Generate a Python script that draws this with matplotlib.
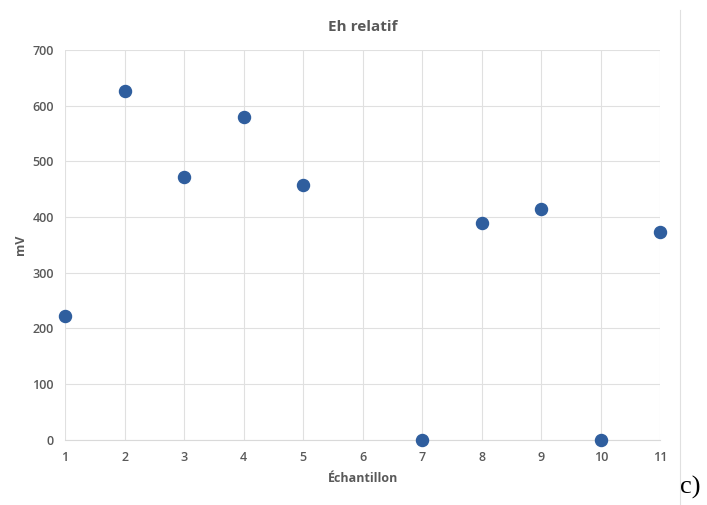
import numpy as np
import matplotlib
matplotlib.use("Agg")
import matplotlib.pyplot as plt

# Eh relatif par échantillon (6 : pas de mesure)
samples = [1, 2, 3, 4, 5, 6, 7, 8, 9, 10, 11]
eh_mv = [223, 627, 472, 580, 458, np.nan, 0, 389, 415, 0, 373]
y_ticks = [0, 100, 200, 300, 400, 500, 600, 700]

txt_color = "#595959"
grid_color = "#e0e0e0"
fam = ["Open Sans", "DejaVu Sans"]

fig = plt.figure(figsize=(7.07, 5.05), dpi=100)
ax = fig.add_axes([0.092, 0.129, 0.842, 0.772])

ax.scatter(samples, eh_mv, s=75, color="#2f5e9e", zorder=3, clip_on=False)

ax.set_xlim(1, 11)
ax.set_ylim(0, 700)
ax.set_xticks(samples)
ax.set_yticks(y_ticks)
ax.grid(True, color=grid_color, linewidth=0.8)
ax.set_axisbelow(True)
for side in ["top", "right", "left"]:
    ax.spines[side].set_visible(False)
ax.spines["bottom"].set_color("#d9d9d9")
ax.tick_params(length=0, pad=8, labelsize=9, labelcolor=txt_color)
for lab in ax.get_xticklabels() + ax.get_yticklabels():
    lab.set_family(fam)
    lab.set_fontweight("semibold")

ax.set_title("Eh relatif", fontsize=11, color=txt_color, fontweight="bold",
             family=fam, pad=14)
ax.set_xlabel("Échantillon", fontsize=9, color=txt_color, fontweight="bold",
              family=fam, labelpad=6)
ax.set_ylabel("mV", fontsize=9, color=txt_color, fontweight="bold",
              family=fam, labelpad=4)

# cadre de droite et étiquette du panneau
fig.add_artist(plt.Line2D([680 / 707, 680 / 707], [0.0, 0.98],
                          color="#e0e0e0", linewidth=0.8))
fig.text(690 / 707, 18 / 505, "c)", fontsize=19, family="Liberation Serif",
         ha="center", va="center", color="black")

fig.savefig("out.png", dpi=100, facecolor="white")
